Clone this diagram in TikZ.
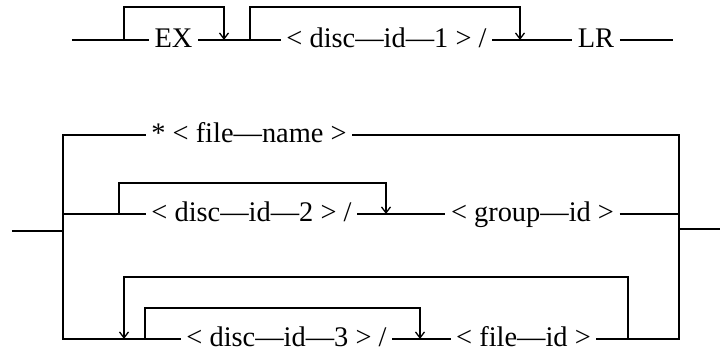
\documentclass[tikz,border=0pt]{standalone}
\usepackage{fontspec}
\setmainfont{Liberation Serif}
\usetikzlibrary{arrows.meta}
\begin{document}
\begin{tikzpicture}[x=0.5pt,y=-0.5pt,
  line width=0.65pt,
  lbl/.style={inner xsep=2.5pt, inner ysep=0pt, text height=9.9pt, text depth=2.8pt,
              font=\fontsize{14.2}{17}\selectfont},
  arr/.style={-{Straight Barb[length=3pt,width=4.5pt]}}
]
\useasboundingbox (0,0) rectangle (720,351);

% ---- EX [disc-id-1/] LR ----
\coordinate (t0) at (72,40);
\coordinate (t9) at (673,40);
\node[lbl] (ex) at (173.5,40) {EX};
\node[lbl] (d1) at (386.5,40) {< disc—id—1 > /};
\node[lbl] (lr) at (596,40) {LR};
\draw (t0) -- (ex) -- (d1) -- (lr) -- (t9);

\coordinate (tt) at (0,7);
\coordinate (b1a) at (124,40);
\coordinate (b1b) at (224,40);
\coordinate (b2a) at (250,40);
\coordinate (b2b) at (520,40);
\draw[arr] (b1a) -- (b1a |- tt) -- (b1b |- tt) -- (b1b);
\draw[arr] (b2a) -- (b2a |- tt) -- (b2b |- tt) -- (b2b);

% ---- three-way choice ----
\coordinate (in)  at (12,231);
\coordinate (L)   at (63,231);
\coordinate (R)   at (679,229);
\coordinate (out) at (720,229);
\coordinate (Ltop) at (63,135);
\coordinate (Lbot) at (63,339);
\coordinate (Rtop) at (679,135);
\coordinate (Rbot) at (679,339);
\draw (in) -- (L);
\draw (R) -- (out);

% first branch
\node[lbl] (fn) at (249,135) {* < file—name >};
% second branch
\node[lbl] (d2) at (251.5,214) {< disc—id—2 > /};
\node[lbl] (gi) at (532.5,214) {< group—id >};
% third branch
\node[lbl] (d3) at (286.5,339) {< disc—id—3 > /};
\node[lbl] (fi) at (523.5,339) {< file—id >};

\draw (fn) -- (Ltop) -- (Lbot) -- (d3) -- (fi) -- (Rbot) -- (Rtop) -- (fn);

\coordinate (r2L) at (63,214);
\coordinate (r2R) at (679,214);
\draw (r2L) -- (d2) -- (gi) -- (r2R);

% optional disc-id-2
\coordinate (t2) at (0,183);
\coordinate (b3a) at (119,214);
\coordinate (b3b) at (386,214);
\draw[arr] (b3a) -- (b3a |- t2) -- (b3b |- t2) -- (b3b);

% repeat loop and optional disc-id-3
\coordinate (ot) at (0,277);
\coordinate (o1) at (628,339);
\coordinate (o2) at (124,339);
\draw[arr] (o1) -- (o1 |- ot) -- (o2 |- ot) -- (o2);
\coordinate (it) at (0,308);
\coordinate (i1) at (145,339);
\coordinate (i2) at (420,339);
\draw[arr] (i1) -- (i1 |- it) -- (i2 |- it) -- (i2);
\end{tikzpicture}
\end{document}
